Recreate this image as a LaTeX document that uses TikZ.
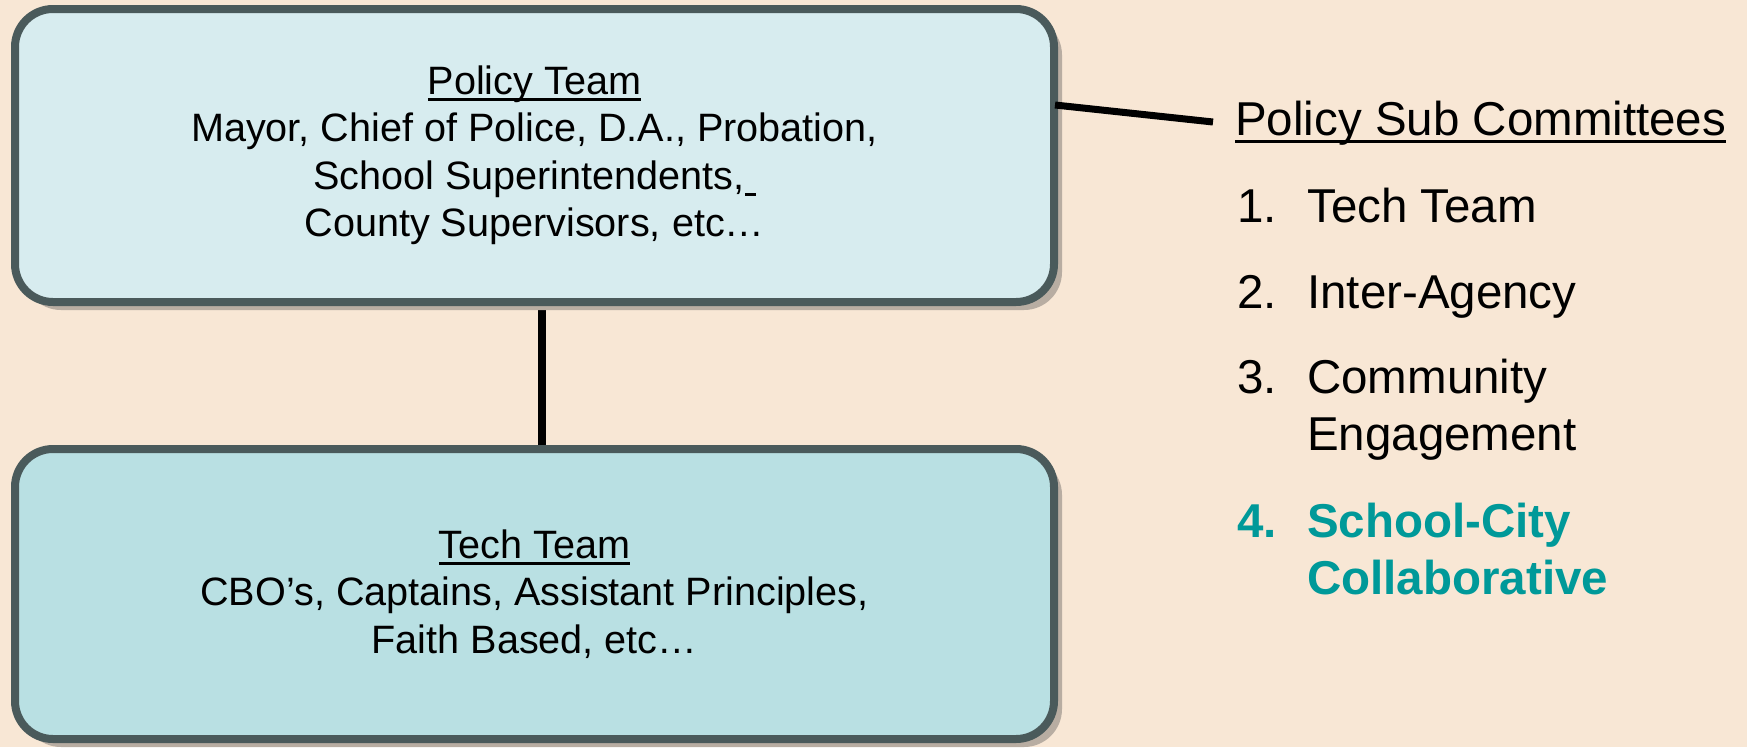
\documentclass[tikz,border=0pt]{standalone}
\usepackage{fontspec}
\setmainfont{Liberation Sans}
\usetikzlibrary{shadows}
\definecolor{bgc}{HTML}{F8E7D5}
\definecolor{topc}{HTML}{D7ECEF}
\definecolor{techc}{HTML}{B9E0E3}
\definecolor{bordc}{HTML}{4A5A5B}
\definecolor{shadc}{HTML}{B8ADA2}
\definecolor{tealc}{HTML}{009999}
\pgfdeclarelayer{bg}
\pgfsetlayers{bg,main}
\newcommand\myul[2][-6.5pt]{\setbox0\hbox{#2}\rlap{\rule[#1]{\wd0}{3pt}}\box0}
\begin{document}
\begin{tikzpicture}[x=1pt,y=-1pt,
  teambox/.style={draw=bordc, line width=8pt, rounded corners=38pt,
    minimum width=1039pt, inner sep=0pt, align=center,
    font=\fontsize{39.6pt}{47.5pt}\selectfont,
    general shadow={fill=shadc, shadow xshift=8pt, shadow yshift=-8pt}},
  listtxt/.style={anchor=base west, inner sep=0pt,
    font=\fontsize{47.5pt}{57pt}\selectfont},
  listbold/.style={listtxt, text=tealc, font=\fontsize{47.5pt}{57pt}\selectfont\bfseries},
  conn/.style={line width=7pt, draw=black}]
\useasboundingbox (0,0) rectangle (1747,747);
\begin{pgfonlayer}{bg}
  \fill[bgc] (0,0) rectangle (1747,747);
\end{pgfonlayer}

\node[teambox, fill=topc, minimum height=293pt] (policy) at (534.5,155.5)
  {\myul{Policy Team}\\Mayor, Chief of Police, D.A., Probation,\\School Superintendents,\myul{\ }\\County Supervisors, etc…};
\node[teambox, fill=techc, minimum height=290pt] (tech) at (534.5,594)
  {\myul[-7pt]{Tech Team}\\CBO’s, Captains, Assistant Principles,\\Faith Based, etc…};

\node[listtxt] (subhead) at (1235,135) {\myul[-7.5pt]{Policy Sub Committees}};
\node[listtxt] (n1) at (1237,222) {1.};
\node[listtxt] (i1) at (1307,222) {Tech Team};
\node[listtxt] (n2) at (1237,308) {2.};
\node[listtxt] (i2) at (1307,308) {Inter-Agency};
\node[listtxt] (n3) at (1237,393) {3.};
\node[listtxt] (i3a) at (1307,393) {Community};
\node[listtxt] (i3b) at (1307,450) {Engagement};
\node[listbold] (n4) at (1237,537) {4.};
\node[listbold] (i4a) at (1307,537) {School-City};
\node[listbold] (i4b) at (1307,594) {Collaborative};

\coordinate (subend) at (1213,122);
\begin{pgfonlayer}{bg}
  \draw[conn, line width=8pt] ([xshift=7.5pt]policy.south) -- ([xshift=7.5pt]tech.north);
\end{pgfonlayer}
\draw[conn] ([xshift=-3pt,yshift=50.5pt]policy.east) -- (subend);
\end{tikzpicture}
\end{document}
